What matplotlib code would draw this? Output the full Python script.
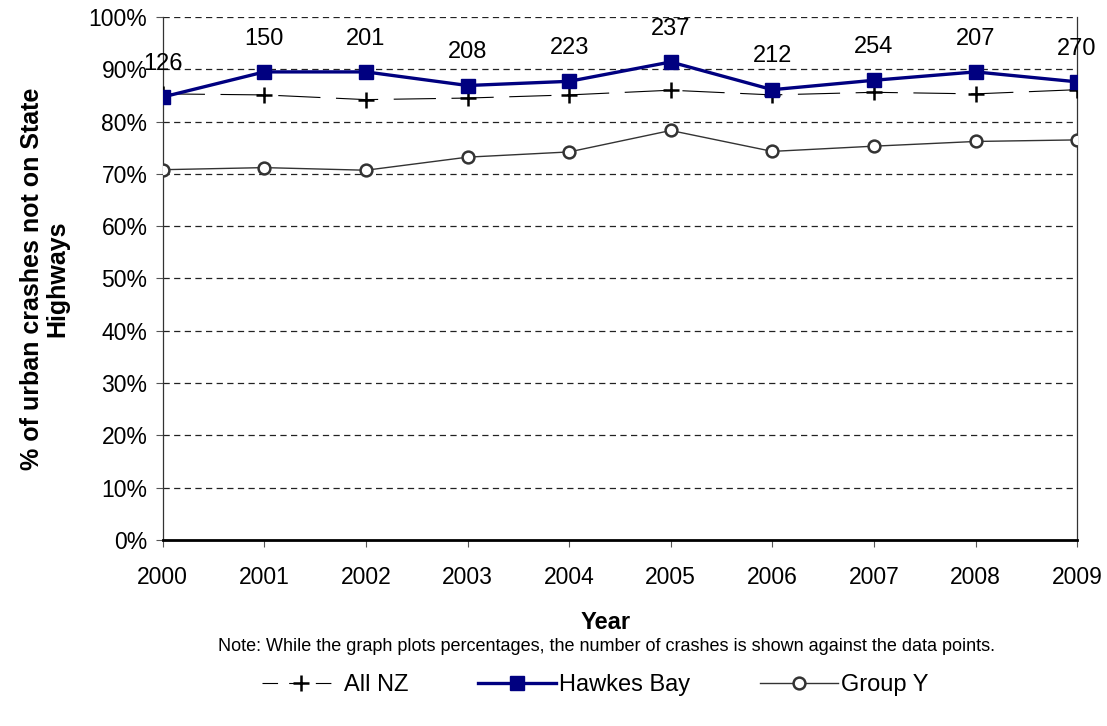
import matplotlib
matplotlib.use("Agg")
import matplotlib.pyplot as plt
from matplotlib.lines import Line2D

plt.rcParams['font.family'] = ['Liberation Sans', 'DejaVu Sans']

years = [2000, 2001, 2002, 2003, 2004, 2005, 2006, 2007, 2008, 2009]
all_nz = [85.3, 85.1, 84.2, 84.5, 85.1, 86.0, 85.1, 85.6, 85.3, 86.1]
hawkes_bay = [84.7, 89.5, 89.5, 86.9, 87.7, 91.4, 86.1, 87.9, 89.5, 87.6]
group_y = [70.8, 71.2, 70.7, 73.2, 74.2, 78.3, 74.3, 75.3, 76.2, 76.5]
crash_counts = [126, 150, 201, 208, 223, 237, 212, 254, 207, 270]
y_ticks = list(range(0, 101, 10))

FS = 16.5

fig = plt.figure(figsize=(11.07, 7.26), dpi=100)
ax = fig.add_axes([0.147, 0.2562, 0.826, 0.7204])

for t in y_ticks[1:]:
    ax.axhline(t, color='#222222', lw=0.9, dashes=(5, 3.5), zorder=1)

ax.plot(years, all_nz, color='black', lw=0.8, dashes=(38, 14),
        marker='+', markersize=11, markeredgewidth=1.8, zorder=3)
ax.plot(years, hawkes_bay, color='#000080', lw=2.4, marker='s',
        markersize=10, zorder=4)
ax.plot(years, group_y, color='#333333', lw=1.0, marker='o',
        markersize=8.5, markerfacecolor='white', markeredgecolor='#333333',
        markeredgewidth=1.8, zorder=3)

for x, y, n in zip(years, hawkes_bay, crash_counts):
    ax.annotate(str(n), (x, y), xytext=(0, 24), textcoords='offset points',
                ha='center', va='center', fontsize=17, color='black', zorder=5)

ax.set_xlim(years[0], years[-1])
ax.set_ylim(0, 100)
ax.set_xticks(years)
ax.set_xticklabels([str(y) for y in years], fontsize=FS)
ax.set_yticks(y_ticks)
ax.set_yticklabels([f"{t}%" for t in y_ticks], fontsize=FS)
ax.tick_params(axis='both', direction='out', length=5, width=0.8,
               color='#555555', pad=6)
ax.tick_params(axis='x', pad=14)

ax.spines['top'].set_visible(False)
ax.spines['left'].set_color('#333333')
ax.spines['left'].set_linewidth(0.9)
ax.spines['right'].set_color('#333333')
ax.spines['right'].set_linewidth(0.9)
ax.spines['bottom'].set_color('black')
ax.spines['bottom'].set_linewidth(2.0)

ax.set_xlabel('Year', fontsize=17, fontweight='bold', labelpad=13)
ax.xaxis.set_label_coords(0.484, -0.135)
ax.set_ylabel('% of urban crashes not on State\nHighways', fontsize=18,
              fontweight='bold', labelpad=14, linespacing=1.05)

fig.text(0.548, 0.109, 'Note: While the graph plots percentages, the number of crashes is shown against the data points.',
         ha='center', va='center', fontsize=13)

handles = [
    Line2D([0], [0], color='black', lw=0.8, dashes=(14, 10), marker='+',
           markersize=11, markeredgewidth=1.8),
    Line2D([0], [0], color='#000080', lw=2.4, marker='s', markersize=10),
    Line2D([0], [0], color='#333333', lw=1.0, marker='o', markersize=8.5,
           markerfacecolor='white', markeredgecolor='#333333', markeredgewidth=1.8),
]
fig.legend(handles, ['All NZ', 'Hawkes Bay', 'Group Y'], loc='center',
           bbox_to_anchor=(0.538, 0.056), ncol=3, frameon=False, fontsize=17,
           handlelength=3.3, columnspacing=2.95, handletextpad=0.15)

fig.savefig('out.png', dpi=100)
